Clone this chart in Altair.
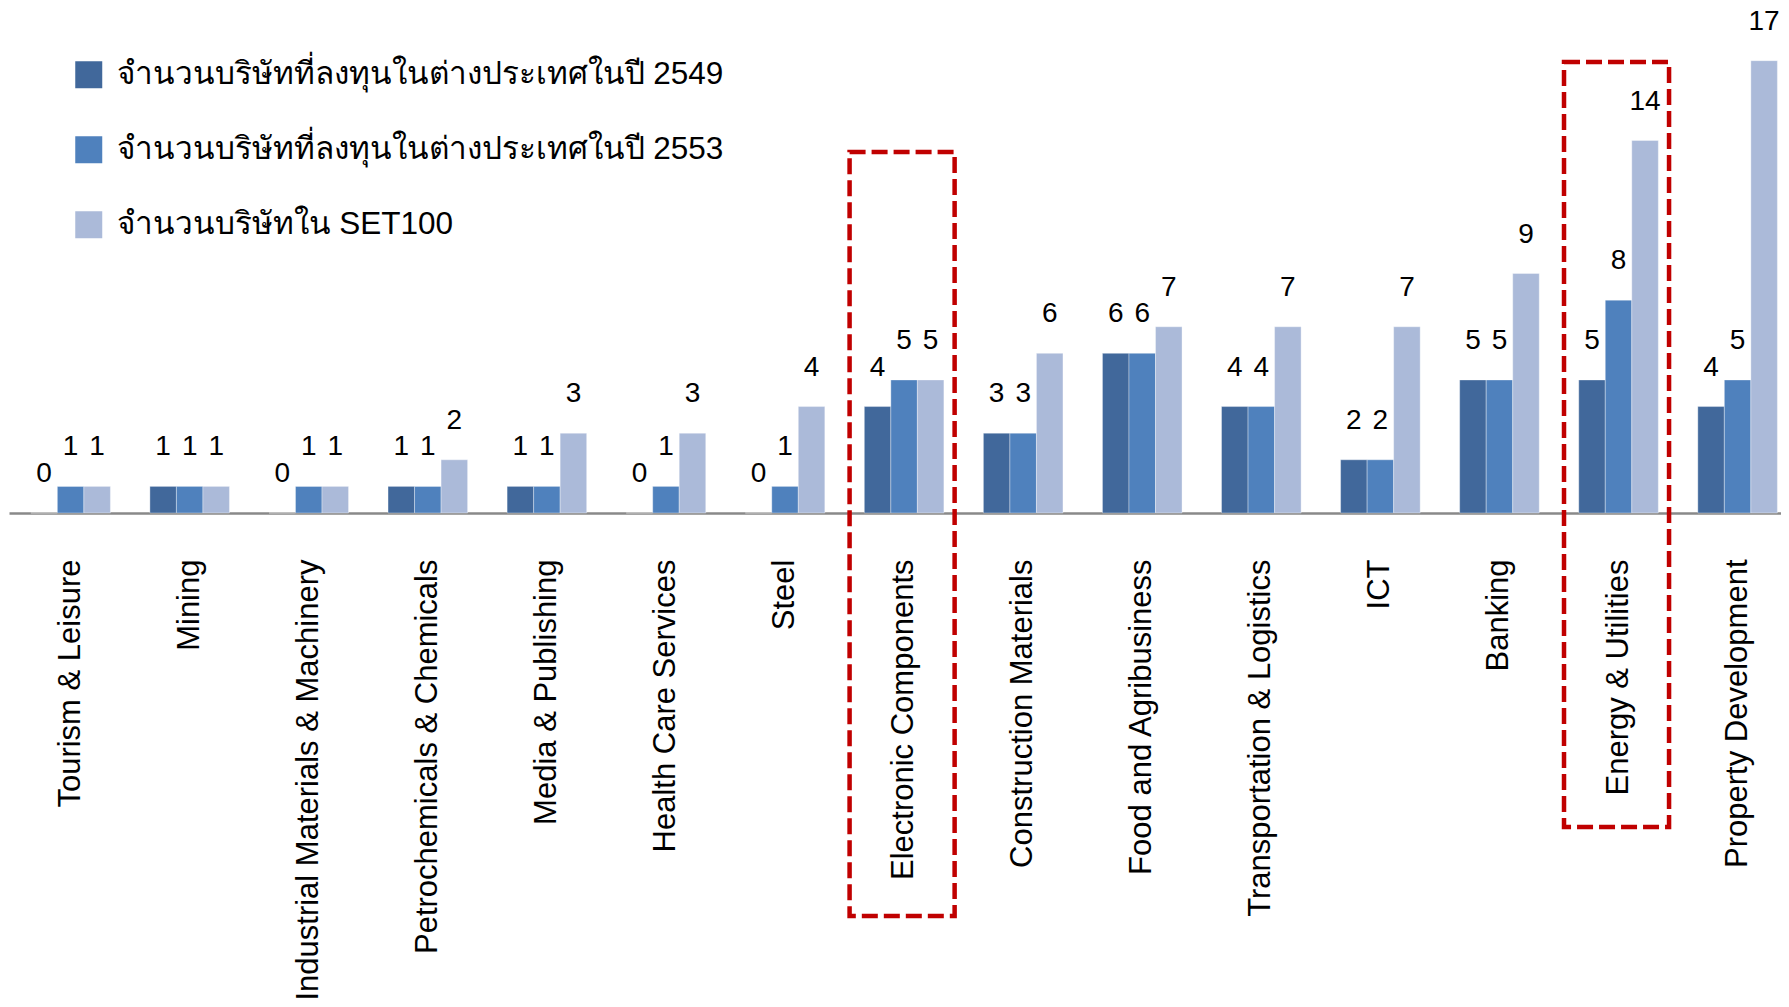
import altair as alt
import pandas as pd

categories = [
    "Tourism & Leisure", "Mining", "Industrial Materials & Machinery",
    "Petrochemicals & Chemicals", "Media & Publishing", "Health Care Services",
    "Steel", "Electronic Components", "Construction Materials",
    "Food and Agribusiness", "Transportation & Logistics", "ICT", "Banking",
    "Energy & Utilities", "Property Development",
]
series = [
    "จำนวนบริษัทที่ลงทุนในต่างประเทศในปี 2549",
    "จำนวนบริษัทที่ลงทุนในต่างประเทศในปี 2553",
    "จำนวนบริษัทใน SET100",
]
v2549 = [0, 1, 0, 1, 1, 0, 0, 4, 3, 6, 4, 2, 5, 5, 4]
v2553 = [1, 1, 1, 1, 1, 1, 1, 5, 3, 6, 4, 2, 5, 8, 5]
vset100 = [1, 1, 1, 2, 3, 3, 4, 5, 6, 7, 7, 7, 9, 14, 17]
colors = ["#41689b", "#4f81bd", "#abbad9"]

highlight_categories = ["Electronic Components", "Energy & Utilities"]
highlight_top = [13.57, 16.95]
highlight_bottom = [-15.15, -11.8]

rows = []
for s, vals in zip(series, [v2549, v2553, vset100]):
    for c, v in zip(categories, vals):
        rows.append({"category": c, "series": s, "value": v})
df = pd.DataFrame(rows)
hl = pd.DataFrame({"category": highlight_categories, "top": highlight_top, "bottom": highlight_bottom})

FONT = "Liberation Sans"

x_enc = alt.X(
    "category:N", sort=categories, title=None,
    scale=alt.Scale(paddingInner=0.3317, paddingOuter=0.1068, align=0.858, round=False),
    axis=alt.Axis(
        labelAngle=-90, labelFont=FONT, labelFontSize=31, labelColor="#000000",
        labelPadding=46, labelLimit=0, ticks=False, tickSize=0,
        domainColor="#898989", domainWidth=2.5, grid=False, labelOverlap=False,
    ),
)
xoff = alt.XOffset("series:N", sort=series,
                   scale=alt.Scale(paddingInner=0, paddingOuter=0, round=False))
y_enc = alt.Y("value:Q", scale=alt.Scale(domain=[0, 18.98], nice=False, zero=True), axis=None)

bars = alt.Chart(df).mark_bar(stroke="#ffffff", strokeOpacity=0.35, strokeWidth=1).encode(
    x=x_enc,
    xOffset=xoff,
    y=y_enc,
    color=alt.Color(
        "series:N", sort=series,
        scale=alt.Scale(domain=series, range=colors),
        legend=alt.Legend(
            orient="none", legendX=64, legendY=51, title=None, direction="vertical",
            symbolType="square", symbolSize=729, symbolStrokeWidth=0, symbolOpacity=1,
            labelFontSize=31.5, labelFont=FONT, labelColor="#000000", labelOffset=12,
            rowPadding=42, padding=0, labelLimit=0,
        ),
    ),
)

labels = alt.Chart(df).mark_text(
    dy=-39, baseline="middle", align="center", fontSize=28, font=FONT, color="#000000"
).encode(
    x=alt.X("category:N", sort=categories),
    xOffset=alt.XOffset("series:N", sort=series),
    y=alt.Y("value:Q"),
    text=alt.Text("value:Q"),
)

boxes = alt.Chart(hl).mark_bar(
    filled=False, color="#c00000", strokeWidth=4.5, strokeDash=[16, 6],
    width=alt.RelativeBandSize(band=1.32), strokeJoin="miter", clip=False, xOffset=-2,
).encode(
    x=alt.X("category:N", sort=categories),
    y=alt.Y("top:Q"),
    y2=alt.Y2("bottom:Q"),
)

chart = alt.layer(bars, labels, boxes).properties(
    width=1772, height=505,
    autosize=alt.AutoSizeParams(type="none"),
    padding={"left": 1, "top": 0, "right": 0, "bottom": 486},
).configure_view(stroke=None)

chart.save("out.html", embed_options={"renderer": "svg", "actions": False})
